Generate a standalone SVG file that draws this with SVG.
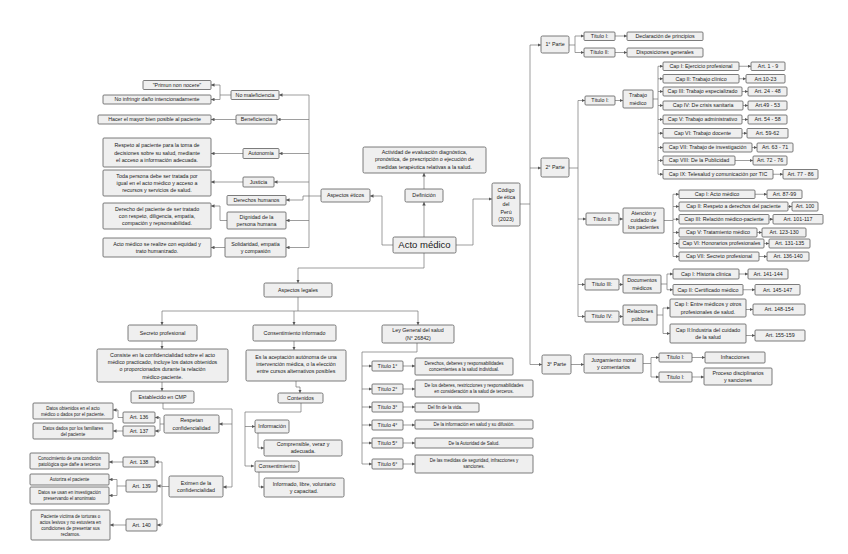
<svg xmlns="http://www.w3.org/2000/svg" width="848" height="554" viewBox="0 0 848 554">
<style>
.b{fill:#efefef;stroke:#5c5c5c;stroke-width:0.8}
.t{font-family:"Liberation Sans",Arial,sans-serif;font-size:5.3px;fill:#1a1a1a;text-anchor:middle}
.s{font-size:4.5px}
.c{fill:none;stroke:#747474;stroke-width:0.7}
.a{marker-end:url(#ar)}
</style>
<defs>
<marker id="ar" markerWidth="3.5" markerHeight="3.5" refX="3.5" refY="1.75" orient="auto" markerUnits="userSpaceOnUse"><path d="M0,0 L3.5,1.75 L0,3.5 z" fill="#555"/></marker>
</defs>
<rect width="848" height="554" fill="#fff"/>
<g id="connectors">
<!-- center -->
<path class="c a" d="M393,245 H382 V196 H370"/>
<path class="c a" d="M424,237 V202"/>
<path class="c a" d="M424,189 V173"/>
<path class="c a" d="M456,245 H473 V199 H492"/>
<path class="c a" d="M424,253 V268 H298 V283"/>
<!-- etica -->
<path class="c" d="M321,196 H309 M309,95 V247.5"/>
<path class="c a" d="M309,95 H279"/>
<path class="c a" d="M309,119.5 H277"/>
<path class="c a" d="M309,153.5 H279"/>
<path class="c a" d="M309,182 H274"/>
<path class="c a" d="M309,196 H303 V200 H286"/>
<path class="c a" d="M309,220.5 H286"/>
<path class="c a" d="M309,247.5 H286"/>
<path class="c" d="M231,95 H220 M220,85 V99.5"/>
<path class="c a" d="M220,85 H211"/>
<path class="c a" d="M220,99.5 H211"/>
<path class="c a" d="M236,119.5 H211"/>
<path class="c a" d="M243,153.5 H211"/>
<path class="c a" d="M243,182 H211"/>
<path class="c a" d="M227,220.5 H220 V206 H211"/>
<path class="c a" d="M225,247.5 H211"/>
<!-- legales -->
<path class="c" d="M298,297 V311 M162,311 H418"/>
<path class="c a" d="M162,311 V325"/>
<path class="c a" d="M294,311 V325"/>
<path class="c a" d="M418,311 V325"/>
<!-- secreto -->
<path class="c a" d="M162,341 V349"/>
<path class="c a" d="M162,382 V391"/>
<path class="c" d="M163,403 V409 H232 V487"/>
<path class="c a" d="M232,424 H219"/>
<path class="c a" d="M232,487 H223"/>
<path class="c" d="M164,424 H160 M160,417.5 V431"/>
<path class="c a" d="M160,417.5 H155"/>
<path class="c a" d="M160,431 H155"/>
<path class="c a" d="M123,417.5 H118 V410 H113"/>
<path class="c a" d="M123,431 H113"/>
<path class="c" d="M169,486.5 H162 M162,462 V525"/>
<path class="c a" d="M162,462 H155"/>
<path class="c a" d="M162,486 H157"/>
<path class="c a" d="M162,525 H157"/>
<path class="c a" d="M123,462 H109"/>
<path class="c" d="M126,486 H117 M117,479.5 V495.5"/>
<path class="c a" d="M117,479.5 H109"/>
<path class="c a" d="M117,495.5 H109"/>
<path class="c a" d="M126,525 H110"/>
<!-- consentimiento -->
<path class="c a" d="M294,341 V350"/>
<path class="c a" d="M296,381 V387 H300 V393"/>
<path class="c" d="M301,403 V412 H245 V466"/>
<path class="c a" d="M245,426.5 H255"/>
<path class="c a" d="M245,466 H254"/>
<path class="c a" d="M258,433 V448 H264"/>
<path class="c a" d="M259,472 V487 H264"/>
<!-- ley -->
<path class="c" d="M417,343 V352 H362 V464"/>
<path class="c a" d="M362,366 H372"/>
<path class="c a" d="M362,389 H372"/>
<path class="c a" d="M362,407 H372"/>
<path class="c a" d="M362,425 H372"/>
<path class="c a" d="M362,443 H372"/>
<path class="c a" d="M362,464 H372"/>
<path class="c a" d="M403,366 H415"/>
<path class="c a" d="M403,389 H415"/>
<path class="c a" d="M403,407 H415"/>
<path class="c a" d="M403,425 H415"/>
<path class="c a" d="M403,443 H415"/>
<path class="c a" d="M403,464 H415"/>
<!-- codigo -->
<path class="c" d="M520,204 H530 M530,45 V364.5"/>
<path class="c a" d="M530,45 H541"/>
<path class="c a" d="M530,168 H541"/>
<path class="c a" d="M530,364.5 H542"/>
<path class="c" d="M569,45 H575 M575,36 V52.5"/>
<path class="c a" d="M575,36 H584"/>
<path class="c a" d="M575,52.5 H584"/>
<path class="c a" d="M615,36 H627"/>
<path class="c a" d="M615,52.5 H627"/>
<path class="c" d="M569,168 H578 M578,100.5 V316.5"/>
<path class="c a" d="M578,100.5 H585"/>
<path class="c a" d="M578,219 H586"/>
<path class="c a" d="M578,284.5 H585"/>
<path class="c a" d="M578,316.5 H585"/>
<path class="c a" d="M615,100.5 H623"/>
<path class="c" d="M653,99 H658 M658,66.25 V174.25"/>
<path class="c a" d="M658,66.25 H663"/>
<path class="c a" d="M658,78.75 H663"/>
<path class="c a" d="M658,91.5 H663"/>
<path class="c a" d="M658,105.5 H663"/>
<path class="c a" d="M658,119.5 H663"/>
<path class="c a" d="M658,133.25 H663"/>
<path class="c a" d="M658,147.5 H663"/>
<path class="c a" d="M658,160.5 H663"/>
<path class="c a" d="M658,174.25 H663"/>
<path class="c a" d="M739,66.25 H751"/>
<path class="c a" d="M739,78.75 H746"/>
<path class="c a" d="M742,91.5 H748"/>
<path class="c a" d="M743,105.5 H748"/>
<path class="c a" d="M742,119.5 H748"/>
<path class="c a" d="M742,133.25 H747"/>
<path class="c a" d="M752,147.5 H757"/>
<path class="c a" d="M735,160.5 H753"/>
<path class="c a" d="M773,174.25 H783"/>
<path class="c a" d="M619,219 H623"/>
<path class="c" d="M664,220.5 H673 M673,194.25 V256.5"/>
<path class="c a" d="M673,194.25 H679"/>
<path class="c a" d="M673,206.5 H679"/>
<path class="c a" d="M673,219.25 H679"/>
<path class="c a" d="M673,232.5 H679"/>
<path class="c a" d="M673,243.5 H679"/>
<path class="c a" d="M673,256.5 H679"/>
<path class="c a" d="M755,194.25 H767"/>
<path class="c a" d="M788,206.5 H792"/>
<path class="c a" d="M769,219.25 H773"/>
<path class="c a" d="M757,232.5 H762"/>
<path class="c a" d="M764,243.5 H769"/>
<path class="c a" d="M759,256.5 H767"/>
<path class="c a" d="M619,284.5 H623"/>
<path class="c" d="M661,284 H667 M667,274 V289.75"/>
<path class="c a" d="M667,274 H673"/>
<path class="c a" d="M667,289.75 H673"/>
<path class="c a" d="M739,274 H748"/>
<path class="c a" d="M743,289.75 H755"/>
<path class="c a" d="M619,316.5 H623"/>
<path class="c" d="M657,315 H663 M663,308 V333.5"/>
<path class="c a" d="M663,308 H670"/>
<path class="c a" d="M663,333.5 H670"/>
<path class="c a" d="M746,309.5 H753"/>
<path class="c a" d="M746,335.5 H755"/>
<path class="c a" d="M571,364.5 H584"/>
<path class="c" d="M643,363.5 H651 M651,357.5 V377"/>
<path class="c a" d="M651,357.5 H659"/>
<path class="c a" d="M651,377 H659"/>
<path class="c a" d="M692,357.5 H705"/>
<path class="c a" d="M692,377 H704"/>
</g>
<!-- center -->
<g id="acto"><rect class="b" x="393" y="237" width="63" height="16" rx="1.5"/><text class="t" x="424.5" y="248.4" style="font-size:9.5px">Acto médico</text></g>
<g id="definicion"><rect class="b" x="405" y="189" width="38" height="13" rx="1.5"/><text class="t" x="424" y="197.4">Definición</text></g>
<g id="def-texto"><rect class="b" x="363" y="147" width="123" height="26" rx="1.5"/><text class="t" x="424.5" y="154.2">Actividad de evaluación diagnóstica,<tspan x="424.5" dy="7.2">pronóstica, de prescripción o ejecución de</tspan><tspan x="424.5" dy="7.2">medidas terapéutica relativas a la salud.</tspan></text></g>
<g id="codigo"><rect class="b" x="492" y="183" width="28" height="43" rx="1.5"/><text class="t" x="506" y="191.9">Código<tspan x="506" dy="7.2">de ética</tspan><tspan x="506" dy="7.2">del</tspan><tspan x="506" dy="7.2">Perú</tspan><tspan x="506" dy="7.2">(2023)</tspan></text></g>
<g id="aspectos-eticos"><rect class="b" x="321" y="189" width="49" height="13" rx="1.5"/><text class="t" x="345.5" y="197.4">Aspectos éticos</text></g>
<!-- etica -->
<g id="nomal"><rect class="b" x="231" y="90.5" width="48" height="9" rx="1"/><text class="t" x="255" y="96.9">No maleficiencia</text></g>
<g id="primun"><rect class="b" x="143" y="80.5" width="68" height="9" rx="1"/><text class="t" x="177" y="86.9">"Primun non nocere"</text></g>
<g id="noinfr"><rect class="b" x="103" y="95" width="108" height="9" rx="1"/><text class="t" x="157" y="101.4">No infringir daño intencionadamente</text></g>
<g id="benef"><rect class="b" x="236" y="115" width="41" height="9" rx="1"/><text class="t" x="256.5" y="121.4">Beneficiencia</text></g>
<g id="hacer"><rect class="b" x="98" y="115" width="113" height="9" rx="1"/><text class="t" x="154.5" y="121.4">Hacer el mayor bien posible al paciente</text></g>
<g id="autonomia"><rect class="b" x="243" y="148.5" width="36" height="10" rx="1"/><text class="t" x="261" y="155.4">Autonomía</text></g>
<g id="respeto"><rect class="b" x="103" y="138" width="108" height="29" rx="1"/><text class="t" x="157" y="147.2">Respeto al paciente para la toma de<tspan x="157" dy="7.3">decisiones sobre su salud, mediante</tspan><tspan x="157" dy="7.3">el acceso a información adecuada.</tspan></text></g>
<g id="justicia"><rect class="b" x="243" y="177" width="31" height="10" rx="1"/><text class="t" x="258.5" y="183.9">Justicia</text></g>
<g id="toda"><rect class="b" x="103" y="170" width="108" height="26" rx="1"/><text class="t" x="157" y="177.6">Toda persona debe ser tratada por<tspan x="157" dy="7.3">igual en el acto médico y acceso a</tspan><tspan x="157" dy="7.3">recursos y servicios de salud.</tspan></text></g>
<g id="ddhh"><rect class="b" x="227" y="195.5" width="59" height="9.5" rx="1"/><text class="t" x="256.5" y="202.1">Derechos humanos</text></g>
<g id="derecho"><rect class="b" x="103" y="203" width="108" height="26" rx="1"/><text class="t" x="157" y="210.6">Derecho del paciente de ser tratado<tspan x="157" dy="7.3">con respeto, diligencia, empatía,</tspan><tspan x="157" dy="7.3">compación y repsonsabilidad.</tspan></text></g>
<g id="dignidad"><rect class="b" x="227" y="212" width="59" height="17" rx="1"/><text class="t" x="256.5" y="218.8">Dignidad de la<tspan x="256.5" dy="7.2">persona humana</tspan></text></g>
<g id="actoequidad"><rect class="b" x="103" y="238" width="108" height="19" rx="1"/><text class="t" x="157" y="245.8">Acto médico se realize con equidad y<tspan x="157" dy="7.2">trato humanizado.</tspan></text></g>
<g id="solidaridad"><rect class="b" x="225" y="238" width="61" height="19" rx="1"/><text class="t" x="255.5" y="245.8">Solidaridad, empatía<tspan x="255.5" dy="7.2">y compasión</tspan></text></g>
<!-- legales -->
<g id="aspectos-legales"><rect class="b" x="264" y="283" width="68" height="14" rx="1.5"/><text class="t" x="298" y="291.9">Aspectos legales</text></g>
<g id="secreto"><rect class="b" x="128" y="325" width="69" height="16" rx="1.5"/><text class="t" x="162.5" y="334.9">Secreto profesional</text></g>
<g id="consiste"><rect class="b" x="97" y="349" width="131" height="33" rx="1.5"/><text class="t" x="162.5" y="356.6">Consiste en la confidencialidad sobre el acto<tspan x="162.5" dy="7.3">médico practicado, incluye los datos obtenidos</tspan><tspan x="162.5" dy="7.3">o proporcionados durante la relación</tspan><tspan x="162.5" dy="7.3">médico-paciente.</tspan></text></g>
<g id="establecido"><rect class="b" x="131" y="391" width="63" height="12" rx="1.5"/><text class="t" x="162.5" y="398.9">Establecido en CMP</text></g>
<g id="respetan"><rect class="b" x="164" y="415" width="55" height="18" rx="1.5"/><text class="t" x="191.5" y="422.3">Respetan<tspan x="191.5" dy="7.2">confidencialidad</tspan></text></g>
<g id="art136"><rect class="b" x="123" y="412" width="32" height="11" rx="1"/><text class="t" x="139" y="419.4">Art. 136</text></g>
<g id="art137"><rect class="b" x="123" y="426" width="32" height="10" rx="1"/><text class="t" x="139" y="432.9">Art. 137</text></g>
<g id="datos1"><rect class="b" x="33" y="403" width="80" height="16" rx="1"/><text class="t s" x="73" y="409.6">Datos obtenidos en el acto<tspan x="73" dy="6">médico o dados por el paciente.</tspan></text></g>
<g id="datos2"><rect class="b" x="33" y="423" width="80" height="16" rx="1"/><text class="t s" x="73" y="429.6">Datos dados por los familiares<tspan x="73" dy="6">del paciente</tspan></text></g>
<g id="eximen"><rect class="b" x="169" y="476" width="54" height="21" rx="1.5"/><text class="t" x="196" y="484.8">Eximen de la<tspan x="196" dy="7.2">confidencialidad</tspan></text></g>
<g id="art138"><rect class="b" x="123" y="457" width="32" height="10" rx="1"/><text class="t" x="139" y="463.9">Art. 138</text></g>
<g id="art139"><rect class="b" x="126" y="480" width="31" height="12" rx="1"/><text class="t" x="141.5" y="487.9">Art. 139</text></g>
<g id="art140"><rect class="b" x="126" y="519" width="31" height="12" rx="1"/><text class="t" x="141.5" y="526.9">Art. 140</text></g>
<g id="conocimiento"><rect class="b" x="30" y="453" width="79" height="16" rx="1"/><text class="t s" x="69.5" y="459.6">Conocimiento de una condición<tspan x="69.5" dy="6">patológica que dañe a terceros</tspan></text></g>
<g id="autoriza"><rect class="b" x="30" y="474" width="79" height="11" rx="1"/><text class="t s" x="69.5" y="481.1">Autoriza el paciente</text></g>
<g id="investigacion"><rect class="b" x="30" y="487" width="79" height="17" rx="1"/><text class="t s" x="69.5" y="494.1">Datos se usan en investigación<tspan x="69.5" dy="6">preservando el anonimato</tspan></text></g>
<g id="victima"><rect class="b" x="31" y="510" width="79" height="30" rx="1"/><text class="t s" x="70.5" y="517.6">Paciente víctima de torturas o<tspan x="70.5" dy="6">actos lesivos y no estuviera en</tspan><tspan x="70.5" dy="6">condiciones de presentar sus</tspan><tspan x="70.5" dy="6">reclamos.</tspan></text></g>
<!-- consentimiento -->
<g id="consentimiento-informado"><rect class="b" x="253" y="325" width="83" height="16" rx="1.5"/><text class="t" x="294.5" y="334.9">Consentimiento informado</text></g>
<g id="aceptacion"><rect class="b" x="246" y="350" width="100" height="31" rx="1.5"/><text class="t" x="296" y="358.6">Es la aceptación autónoma de una<tspan x="296" dy="7.3">intervención médica, o la elección</tspan><tspan x="296" dy="7.3">entre cursos alternativos posibles</tspan></text></g>
<g id="contenidos"><rect class="b" x="278" y="393" width="45" height="10" rx="1.5"/><text class="t" x="300.5" y="399.9">Contenidos</text></g>
<g id="informacion"><rect class="b" x="255" y="420" width="34" height="13" rx="1.5"/><text class="t" x="272" y="428.4">Información</text></g>
<g id="comprensible"><rect class="b" x="264" y="440" width="78" height="16" rx="1.5"/><text class="t" x="303" y="446.4">Comprensible, veraz y<tspan x="303" dy="7">adecuada.</tspan></text></g>
<g id="consentimiento"><rect class="b" x="255" y="461" width="44" height="11" rx="1.5"/><text class="t" x="277" y="468.4">Consentimiento</text></g>
<g id="informado"><rect class="b" x="264" y="478" width="80" height="19" rx="1.5"/><text class="t" x="304" y="485.6">Informado, libre, voluntario<tspan x="304" dy="7.3">y capacitad.</tspan></text></g>
<!-- ley -->
<g id="ley"><rect class="b" x="382" y="325" width="72" height="18" rx="1.5"/><text class="t" x="418" y="332.3">Ley General del salud<tspan x="418" dy="7.2">(N° 26842)</tspan></text></g>
<g id="t1"><rect class="b" x="372" y="361" width="31" height="10" rx="1"/><text class="t" x="387.5" y="367.9">Título 1°</text></g>
<g id="t2"><rect class="b" x="372" y="384" width="31" height="10" rx="1"/><text class="t" x="387.5" y="390.9">Título 2°</text></g>
<g id="t3"><rect class="b" x="372" y="402" width="31" height="10" rx="1"/><text class="t" x="387.5" y="408.9">Título 3°</text></g>
<g id="t4"><rect class="b" x="372" y="420" width="31" height="10" rx="1"/><text class="t" x="387.5" y="426.9">Título 4°</text></g>
<g id="t5"><rect class="b" x="372" y="438" width="31" height="10" rx="1"/><text class="t" x="387.5" y="444.9">Título 5°</text></g>
<g id="t6"><rect class="b" x="372" y="459" width="31" height="10" rx="1"/><text class="t" x="387.5" y="465.9">Título 6°</text></g>
<g id="d1"><rect class="b" x="415" y="358" width="98" height="17" rx="1"/><text class="t s" x="464" y="364.9">Derechos, deberes y responsabilidades<tspan x="464" dy="6">concernientes a la salud individual.</tspan></text></g>
<g id="d2"><rect class="b" x="415" y="380" width="118" height="17" rx="1"/><text class="t s" x="474" y="386.9">De los deberes, restricciones y responsabilidades<tspan x="474" dy="6">en consideración a la salud de terceros.</tspan></text></g>
<g id="d3"><rect class="b" x="415" y="403" width="64" height="9" rx="1"/><text class="t s" x="445" y="409.1">Del fin de la vida.</text></g>
<g id="d4"><rect class="b" x="415" y="420" width="118" height="9" rx="1"/><text class="t s" x="474" y="426.1">De la información en salud y su difusión.</text></g>
<g id="d5"><rect class="b" x="415" y="438" width="118" height="10" rx="1"/><text class="t s" x="474" y="444.6">De la Autoridad de Salud.</text></g>
<g id="d6"><rect class="b" x="415" y="455" width="118" height="18" rx="1"/><text class="t s" x="474" y="462.4">De las medidas de seguridad, infracciones y<tspan x="474" dy="6">sanciones.</tspan></text></g>
<!-- right -->
<g id="parte1"><rect class="b" x="541" y="36" width="28" height="17" rx="1.5"/><text class="t" x="555" y="46.4">1° Parte</text></g>
<g id="p1t1"><rect class="b" x="584" y="32" width="31" height="8.5" rx="1"/><text class="t" x="599.5" y="38.2">Título I:</text></g>
<g id="declaracion"><rect class="b" x="627" y="32" width="76" height="8.5" rx="1"/><text class="t" x="665" y="38.2">Declaración de principios</text></g>
<g id="p1t2"><rect class="b" x="584" y="48" width="31" height="9" rx="1"/><text class="t" x="599.5" y="54.4">Título II:</text></g>
<g id="disposiciones"><rect class="b" x="627" y="48" width="76" height="9" rx="1"/><text class="t" x="665" y="54.4">Disposiciones generales</text></g>
<g id="parte2"><rect class="b" x="541" y="158" width="28" height="19" rx="1.5"/><text class="t" x="555" y="169.4">2° Parte</text></g>
<g id="p2t1"><rect class="b" x="585" y="96" width="30" height="9" rx="1"/><text class="t" x="600" y="102.4">Título I:</text></g>
<g id="trabajo"><rect class="b" x="623" y="90" width="30" height="18" rx="1"/><text class="t" x="638" y="97.3">Trabajo<tspan x="638" dy="7.2">médico</tspan></text></g>
<g class="caps" id="caps-trabajo">
<rect class="b" x="663" y="62" width="76" height="8.5" rx="1"/><text class="t" x="701" y="68.1">Cap I: Ejercicio profesional</text>
<rect class="b" x="751" y="62" width="34" height="8.5" rx="1"/><text class="t" x="768" y="68.1">Art. 1 - 9</text>
<rect class="b" x="663" y="74.5" width="76" height="8.5" rx="1"/><text class="t" x="701" y="80.6">Cap II: Trabajo clínico</text>
<rect class="b" x="746" y="74.5" width="39" height="8.5" rx="1"/><text class="t" x="765.5" y="80.6">Art.10-23</text>
<rect class="b" x="663" y="87" width="79" height="9" rx="1"/><text class="t" x="702.5" y="93.4">Cap III: Trabajo especializado</text>
<rect class="b" x="748" y="87" width="39" height="9" rx="1"/><text class="t" x="767.5" y="93.4">Art. 24 - 48</text>
<rect class="b" x="663" y="101" width="80" height="9" rx="1"/><text class="t" x="703" y="107.4">Cap IV: De crisis sanitaria</text>
<rect class="b" x="748" y="101" width="39" height="9" rx="1"/><text class="t" x="767.5" y="107.4">Art.49 - 53</text>
<rect class="b" x="663" y="115" width="79" height="9" rx="1"/><text class="t" x="702.5" y="121.4">Cap V: Trabajo administrativo</text>
<rect class="b" x="748" y="115" width="39" height="9" rx="1"/><text class="t" x="767.5" y="121.4">Art. 54 - 58</text>
<rect class="b" x="663" y="128.5" width="79" height="9.5" rx="1"/><text class="t" x="702.5" y="135.1">Cap VI: Trabajo docente</text>
<rect class="b" x="747" y="128.5" width="41" height="9.5" rx="1"/><text class="t" x="767.5" y="135.1">Art. 59-62</text>
<rect class="b" x="663" y="143" width="89" height="9" rx="1"/><text class="t" x="707.5" y="149.4">Cap VII: Trabajo de investigación</text>
<rect class="b" x="757" y="143" width="36" height="9" rx="1"/><text class="t" x="775" y="149.4">Art. 63 - 71</text>
<rect class="b" x="663" y="156" width="72" height="9" rx="1"/><text class="t" x="699" y="162.4">Cap VIII: De la Publicidad</text>
<rect class="b" x="753" y="156" width="34" height="9" rx="1"/><text class="t" x="770" y="162.4">Art. 72 -  76</text>
<rect class="b" x="663" y="169.5" width="110" height="9.5" rx="1"/><text class="t" x="718" y="176.1">Cap IX: Telesalud y comunicación por TIC</text>
<rect class="b" x="783" y="169.5" width="35" height="9.5" rx="1"/><text class="t" x="800.5" y="176.1">Art. 77 - 86</text>
</g>
<g id="p2t2"><rect class="b" x="586" y="213" width="33" height="12" rx="1"/><text class="t" x="602.5" y="220.9">Título II:</text></g>
<g id="atencion"><rect class="b" x="623" y="208" width="41" height="25" rx="1"/><text class="t" x="643.5" y="214.6">Atención y<tspan x="643.5" dy="7.2">cuidado de</tspan><tspan x="643.5" dy="7.2">los pacientes</tspan></text></g>
<g class="caps" id="caps-atencion">
<rect class="b" x="679" y="190" width="76" height="8.5" rx="1"/><text class="t" x="717" y="196.1">Cap I: Acto médico</text>
<rect class="b" x="767" y="190" width="35" height="8.5" rx="1"/><text class="t" x="784.5" y="196.1">Art. 87-99</text>
<rect class="b" x="679" y="202" width="109" height="9" rx="1"/><text class="t" x="733.5" y="208.4">Cap II: Respeto a derechos del paciente</text>
<rect class="b" x="792" y="202" width="26" height="9" rx="1"/><text class="t" x="805" y="208.4">Art. 100</text>
<rect class="b" x="679" y="214.5" width="90" height="9.5" rx="1"/><text class="t" x="724" y="221.1">Cap III: Relación médico-paciente</text>
<rect class="b" x="773" y="214.5" width="50" height="9.5" rx="1"/><text class="t" x="798" y="221.1">Art. 101-117</text>
<rect class="b" x="679" y="228" width="78" height="9" rx="1"/><text class="t" x="718" y="234.4">Cap V: Tratamiento médico</text>
<rect class="b" x="762" y="228" width="44" height="9" rx="1"/><text class="t" x="784" y="234.4">Art. 123-130</text>
<rect class="b" x="679" y="239" width="85" height="9" rx="1"/><text class="t" x="721.5" y="245.4">Cap VI: Honorarios profesionales</text>
<rect class="b" x="769" y="239" width="41" height="9" rx="1"/><text class="t" x="789.5" y="245.4">Art. 131-135</text>
<rect class="b" x="679" y="252" width="80" height="9" rx="1"/><text class="t" x="719" y="258.4">Cap VII: Secreto profesional</text>
<rect class="b" x="767" y="252" width="42" height="9" rx="1"/><text class="t" x="788" y="258.4">Art. 136-140</text>
</g>
<g id="p2t3"><rect class="b" x="585" y="279" width="34" height="11" rx="1"/><text class="t" x="602" y="286.4">Título III:</text></g>
<g id="documentos"><rect class="b" x="623" y="275" width="38" height="18" rx="1"/><text class="t" x="642" y="282.3">Documentos<tspan x="642" dy="7.2">médicos</tspan></text></g>
<g class="caps" id="caps-documentos">
<rect class="b" x="673" y="269" width="66" height="10" rx="1"/><text class="t" x="706" y="275.9">Cap I: Historia clínica</text>
<rect class="b" x="748" y="269" width="40" height="10" rx="1"/><text class="t" x="768" y="275.9">Art. 141-144</text>
<rect class="b" x="673" y="284.5" width="70" height="10.5" rx="1"/><text class="t" x="708" y="291.6">Cap II: Certificado médico</text>
<rect class="b" x="755" y="284.5" width="45" height="10.5" rx="1"/><text class="t" x="777.5" y="291.6">Art. 145-147</text>
</g>
<g id="p2t4"><rect class="b" x="585" y="311" width="34" height="11" rx="1"/><text class="t" x="602" y="318.4">Título IV:</text></g>
<g id="relaciones"><rect class="b" x="623" y="305" width="34" height="20" rx="1"/><text class="t" x="640" y="313.3">Relaciones<tspan x="640" dy="7.2">pública</tspan></text></g>
<g class="caps" id="caps-relaciones">
<rect class="b" x="670" y="299" width="76" height="18" rx="1"/><text class="t" x="708" y="306.3">Cap I: Entre médicos y otros<tspan x="708" dy="7.2">profesionales de salud.</tspan></text>
<rect class="b" x="753" y="304" width="52" height="11" rx="1"/><text class="t" x="779" y="311.4">Art. 148-154</text>
<rect class="b" x="670" y="324" width="76" height="19" rx="1"/><text class="t" x="708" y="331.8">Cap II:Industria del cuidado<tspan x="708" dy="7.2">de la salud</tspan></text>
<rect class="b" x="755" y="330" width="50" height="11" rx="1"/><text class="t" x="780" y="337.4">Art. 155-159</text>
</g>
<g id="parte3"><rect class="b" x="542" y="355" width="29" height="19" rx="1.5"/><text class="t" x="556.5" y="366.4">3° Parte</text></g>
<g id="juzgamiento"><rect class="b" x="584" y="354" width="59" height="19" rx="1.5"/><text class="t" x="613.5" y="361.8">Juzgamiento moral<tspan x="613.5" dy="7.2">y comentarios</tspan></text></g>
<g id="p3t1"><rect class="b" x="659" y="353" width="33" height="9" rx="1"/><text class="t" x="675.5" y="359.4">Título I:</text></g>
<g id="infracciones"><rect class="b" x="705" y="352" width="60" height="11" rx="1"/><text class="t" x="735" y="359.4">Infracciones</text></g>
<g id="p3t2"><rect class="b" x="659" y="372" width="33" height="10" rx="1"/><text class="t" x="675.5" y="378.9">Título I:</text></g>
<g id="proceso"><rect class="b" x="704" y="368" width="68" height="17" rx="1"/><text class="t" x="738" y="374.9">Proceso disciplinarios<tspan x="738" dy="7.2">y sanciones</tspan></text></g>
</svg>
